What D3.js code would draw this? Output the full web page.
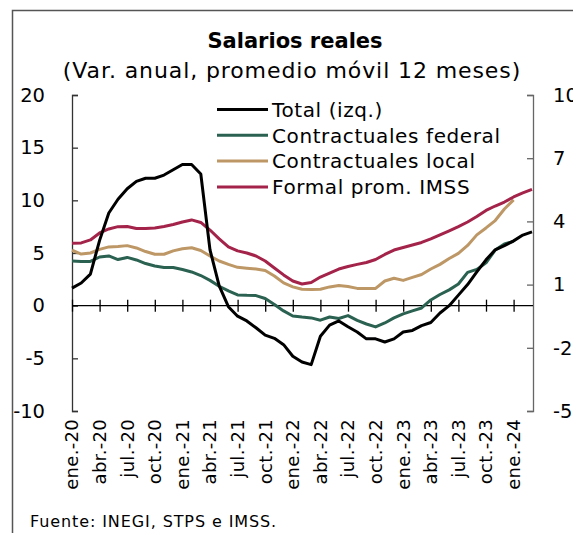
<!DOCTYPE html>
<html>
<head>
<meta charset="utf-8">
<script src="https://cdn.jsdelivr.net/npm/d3@7"></script>
<style>
  body { margin: 0; background: #fff; }
  svg { font-family: "DejaVu Sans", sans-serif; }
</style>
</head>
<body>
<svg id="chart" width="573" height="533"></svg>
<script>
'use strict';

// monthly, ene.-20 .. mar.-24
const total = [1.67, 2.15, 3.0, 6.2, 8.8, 10.1, 11.1, 11.8, 12.1, 12.1, 12.4, 12.9, 13.4, 13.4, 12.5,
  5.3, 1.87, -0.1, -1.0, -1.45, -2.1, -2.8, -3.1, -3.7, -4.8, -5.35, -5.6, -2.9, -1.85, -1.45,
  -2.0, -2.5, -3.15, -3.15, -3.45, -3.15, -2.5, -2.35, -1.9, -1.6, -0.7, 0.0, 1.0, 2.0, 3.2,
  4.35, 5.3, 5.7, 6.15, 6.7, 7.0];
const federal = [2.12, 2.1, 2.1, 2.31, 2.36, 2.19, 2.29, 2.17, 2.0, 1.88, 1.81, 1.81, 1.72, 1.6, 1.43,
  1.2, 0.92, 0.7, 0.51, 0.49, 0.48, 0.34, 0.06, -0.25, -0.49, -0.54, -0.58, -0.69, -0.54, -0.61,
  -0.47, -0.7, -0.87, -1.01, -0.82, -0.58, -0.39, -0.25, -0.11, 0.27, 0.53, 0.75, 1.03, 1.58, 1.72,
  2.03, 2.64, 2.93, 3.05];
const local = [2.63, 2.45, 2.5, 2.67, 2.79, 2.81, 2.85, 2.74, 2.57, 2.44, 2.44, 2.6, 2.7, 2.75, 2.62,
  2.36, 2.12, 1.96, 1.82, 1.78, 1.74, 1.67, 1.41, 1.08, 0.89, 0.78, 0.77, 0.78, 0.89, 0.96,
  0.91, 0.82, 0.82, 0.82, 1.17, 1.3, 1.2, 1.34, 1.48, 1.74, 1.96, 2.24, 2.48, 2.86, 3.36,
  3.69, 4.04, 4.59, 5.02];
const imss = [2.96, 2.98, 3.12, 3.45, 3.64, 3.75, 3.76, 3.66, 3.66, 3.69, 3.76, 3.85, 3.97, 4.07, 3.95,
  3.59, 3.17, 2.79, 2.6, 2.5, 2.36, 2.12, 1.79, 1.46, 1.17, 1.03, 1.1, 1.36, 1.55, 1.74,
  1.86, 1.96, 2.05, 2.19, 2.43, 2.64, 2.76, 2.88, 3.0, 3.17, 3.36, 3.55, 3.75, 3.97, 4.23,
  4.52, 4.73, 4.92, 5.16, 5.35, 5.52];

const xLabels = ['ene.-20', 'abr.-20', 'jul.-20', 'oct.-20', 'ene.-21', 'abr.-21', 'jul.-21', 'oct.-21',
  'ene.-22', 'abr.-22', 'jul.-22', 'oct.-22', 'ene.-23', 'abr.-23', 'jul.-23', 'oct.-23', 'ene.-24'];
const leftTicks = [-10, -5, 0, 5, 10, 15, 20];
const rightTicks = [-5, -2, 1, 4, 7, 10];

const seriesNames = ['Total (izq.)', 'Contractuales federal', 'Contractuales local', 'Formal prom. IMSS'];
const seriesColors = ['#000000', '#2a6150', '#bd9765', '#a3234a'];

// ---- layout
const svg = d3.select('#chart');
const plotLeft = 72, plotRight = 533, plotTop = 95, plotBottom = 411;

const x = d3.scaleLinear([0, 48], [plotLeft, 513.6]);
const yL = d3.scaleLinear([-10, 20], [plotBottom, plotTop]);
const yR = d3.scaleLinear([-5, 10], [plotBottom, plotTop]);
const plain = d => String(d);

// frame
svg.append('path')
  .attr('d', 'M12.5,533 V10.5 H573')
  .attr('fill', 'none')
  .attr('stroke', '#555')
  .attr('stroke-width', 1.5);

// titles
svg.append('text')
  .attr('x', 295).attr('y', 48)
  .attr('text-anchor', 'middle')
  .attr('font-size', 21).attr('font-weight', 'bold')
  .text('Salarios reales');
svg.append('text')
  .attr('x', 292).attr('y', 78)
  .attr('text-anchor', 'middle')
  .attr('font-size', 22)
  .attr('letter-spacing', 0.9)
  .text('(Var. anual, promedio móvil 12 meses)');

// left axis
const gL = svg.append('g')
  .attr('transform', `translate(${plotLeft},0)`)
  .call(d3.axisRight(yL).tickValues(leftTicks).tickSize(6).tickFormat(plain));
gL.select('.domain').attr('stroke', '#333').attr('stroke-width', 1.3);
gL.selectAll('.tick line').attr('stroke', '#333').attr('stroke-width', 1.3);
gL.selectAll('.tick text')
  .attr('x', -27).attr('text-anchor', 'end')
  .attr('font-size', 19.5).attr('fill', '#000')
  .attr('font-family', '"DejaVu Sans", sans-serif');

// right axis
const gR = svg.append('g')
  .attr('transform', `translate(${plotRight},0)`)
  .call(d3.axisLeft(yR).tickValues(rightTicks).tickSize(6).tickFormat(plain));
gR.select('.domain').attr('stroke', '#666').attr('stroke-width', 1.3);
gR.selectAll('.tick line').attr('stroke', '#666').attr('stroke-width', 1.3);
gR.selectAll('.tick text')
  .attr('x', 20).attr('text-anchor', 'start')
  .attr('font-size', 19.5).attr('fill', '#000')
  .attr('font-family', '"DejaVu Sans", sans-serif');

// zero line with crossing ticks
const gX = svg.append('g')
  .attr('transform', `translate(0,${yL(0)})`)
  .call(d3.axisBottom(x).tickValues(d3.range(0, 49, 3)).tickSize(12).tickFormat(''));
gX.select('.domain').attr('d', `M${plotLeft},0H${plotRight}`).attr('stroke', '#000').attr('stroke-width', 1.3);
gX.selectAll('.tick line').attr('y1', -6).attr('y2', 6).attr('stroke', '#000').attr('stroke-width', 1.3);

// month labels
svg.append('g')
  .selectAll('text')
  .data(xLabels)
  .join('text')
  .attr('transform', (d, i) => `translate(${x(i * 3)},419) rotate(-90)`)
  .attr('text-anchor', 'end')
  .attr('dy', '0.36em')
  .attr('font-size', 18)
  .attr('letter-spacing', 0.3)
  .text(d => d);

// lines
const lineL = d3.line().x((d, i) => x(i)).y(d => yL(d));
const lineR = d3.line().x((d, i) => x(i)).y(d => yR(d));

const plotted = [
  { data: federal, line: lineR, color: seriesColors[1] },
  { data: local, line: lineR, color: seriesColors[2] },
  { data: imss, line: lineR, color: seriesColors[3] },
  { data: total, line: lineL, color: seriesColors[0] }
];
svg.append('g')
  .selectAll('path')
  .data(plotted)
  .join('path')
  .attr('d', d => d.line(d.data))
  .attr('fill', 'none')
  .attr('stroke', d => d.color)
  .attr('stroke-width', 3)
  .attr('stroke-linejoin', 'round');

// legend
const leg = svg.append('g')
  .selectAll('g')
  .data(seriesNames)
  .join('g')
  .attr('transform', (d, i) => `translate(217,${109.5 + i * 25.8})`);
leg.append('line')
  .attr('x1', 0).attr('x2', 51)
  .attr('stroke', (d, i) => seriesColors[i])
  .attr('stroke-width', 3);
leg.append('text')
  .attr('x', 55).attr('dy', '0.36em')
  .attr('font-size', 20)
  .attr('letter-spacing', 0.6)
  .text(d => d);

// source
svg.append('text')
  .attr('x', 30).attr('y', 527)
  .attr('font-size', 16)
  .attr('letter-spacing', 0.9)
  .text('Fuente: INEGI, STPS e IMSS.');
</script>
</body>
</html>
